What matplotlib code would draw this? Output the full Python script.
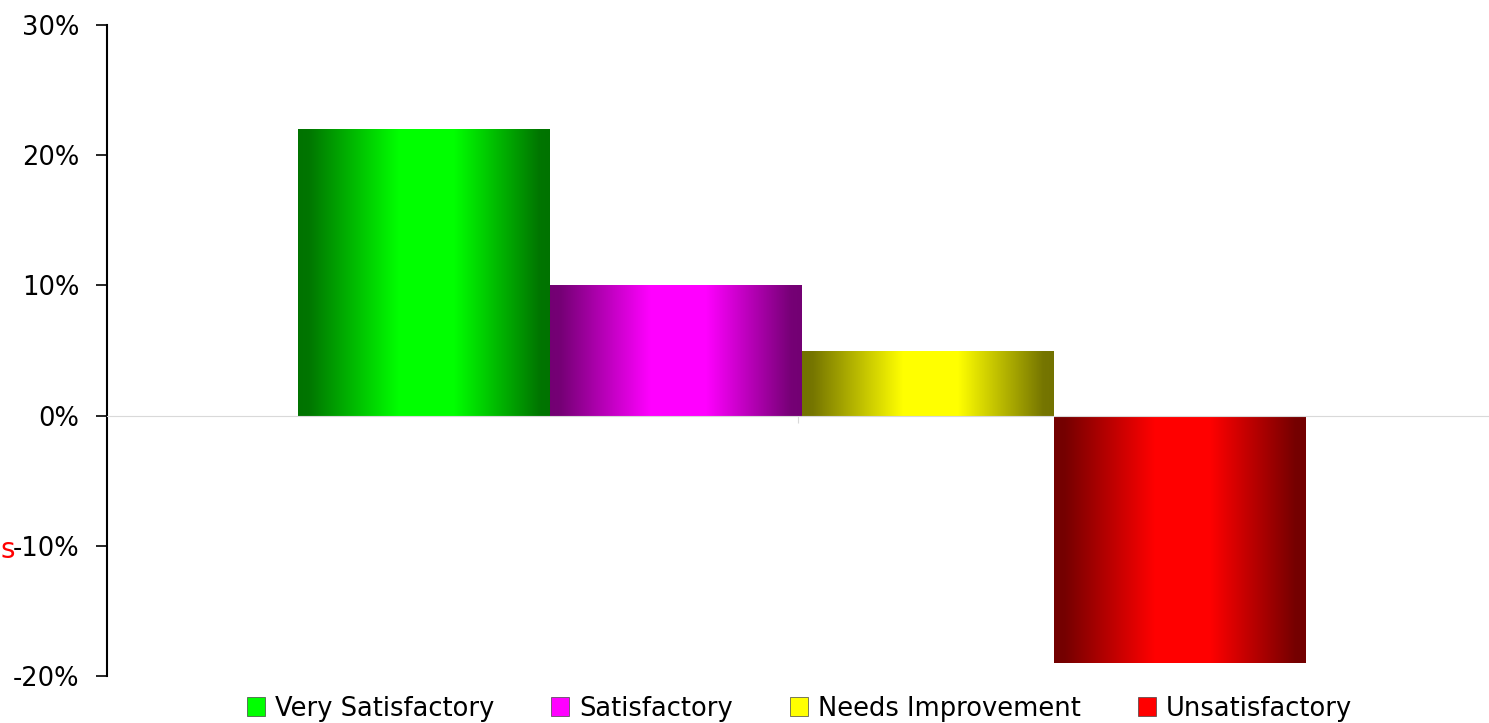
import numpy as np
import matplotlib
matplotlib.use("Agg")
import matplotlib.pyplot as plt
from matplotlib.patches import Patch

# chart data
series = ['Very Satisfactory', 'Satisfactory', 'Needs Improvement', 'Unsatisfactory']
values = [22, 10, 5, -19]
colors = ['#00ff00', '#ff00ff', '#ffff00', '#ff0000']
yticks = [-20, -10, 0, 10, 20, 30]

fig = plt.figure(figsize=(14.89, 7.23), dpi=100)
ax = fig.add_axes([107 / 1489, 1 - 676 / 723, 1 - 107 / 1489, (676 - 25) / 723])

bar_w = 252 / 1382
offsets = 0.003 + (np.arange(len(series)) - 1.5) * bar_w

# horizontal shading profile: dark edges, bright middle
t = np.linspace(0, 1, 256)
shade = np.interp(t, [0, 0.04, 0.40, 0.62, 0.96, 1], [0.45, 0.46, 1, 1, 0.46, 0.45])

for x, v, c in zip(offsets, values, colors):
    bars = ax.bar(x, v, width=bar_w, color='none', edgecolor='none', zorder=2)
    rect = bars[0]
    rgb = np.array(matplotlib.colors.to_rgb(c))
    img = shade[None, :, None] * rgb[None, None, :]
    x0, x1 = x - bar_w / 2, x + bar_w / 2
    y0, y1 = min(0, v), max(0, v)
    im = ax.imshow(img, extent=[x0, x1, y0, y1], aspect='auto', zorder=2,
                   interpolation='bilinear')
    im.set_clip_path(rect)

ax.set_xlim(-0.5, 0.5)
ax.set_ylim(-20, 30)
ax.set_yticks(yticks)
ax.set_yticklabels([f'{v}%' for v in yticks], fontsize=18.5)
ax.tick_params(axis='y', length=8, width=1.2, direction='out', pad=12)

ax.spines['top'].set_visible(False)
ax.spines['right'].set_visible(False)
ax.spines['left'].set_linewidth(1.5)
ax.spines['bottom'].set_position(('data', 0))
ax.spines['bottom'].set_color('#d9d9d9')
ax.set_xticks([0])
ax.set_xticklabels([''])
ax.tick_params(axis='x', color='#d9d9d9', length=10, direction='inout')
ax.set_axisbelow(True)

# axis title fragment at the left edge
fig.text(1 / 1489, 1 - 550 / 723, 's', color='red', fontsize=20, ha='left', va='center')

handles = [Patch(facecolor=c, edgecolor='#444444', linewidth=0.5) for c in colors]
fig.legend(handles, series, loc='lower center', bbox_to_anchor=(0.537, -0.03),
           ncol=4, frameon=False, fontsize=18.5, handlelength=0.7, handleheight=0.8,
           handletextpad=0.4, columnspacing=2.2)

fig.savefig('out.png', dpi=100)
